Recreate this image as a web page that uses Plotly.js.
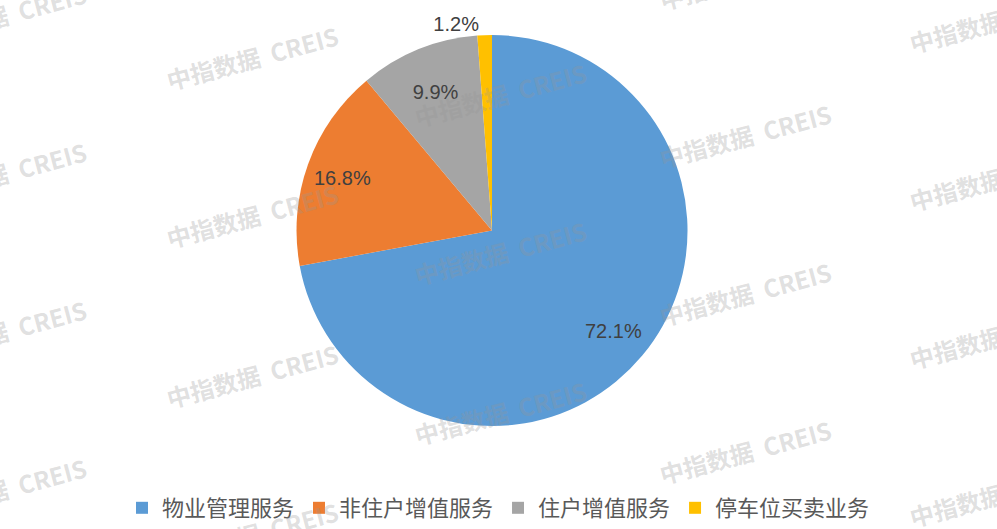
<!DOCTYPE html>
<html>
<head>
<meta charset="utf-8">
<script src="https://cdn.plot.ly/plotly-3.0.1.min.js"></script>
<style>html,body{margin:0;padding:0;background:#fff;}#chart{width:997px;height:529px;}</style>
</head>
<body>
<div id="chart"></div>
<script>
const categories = ['物业管理服务', '非住户增值服务', '住户增值服务', '停车位买卖业务'];
const shares = [72.1, 16.8, 9.9, 1.2];
const sliceColors = ['#5B9BD5', '#ED7D31', '#A5A5A5', '#FFC000'];
// how each slice's value label is drawn: 'ring' = horizontal label at 80% of the radius
const labelModes = ['ring', 'ring', 'inside', 'outside'];

const watermarkText = '中指数据\u00a0\u00a0CREIS';
const watermarkSpots = [
  [0, 15], [0, 175], [0, 335], [0, 495],
  [252, 58], [252, 218], [252, 380], [252, 540],
  [500, 95], [500, 255], [500, 417],
  [745, -23], [745, 137], [745, 297], [745, 457],
  [995, 20], [995, 180], [995, 340], [995, 500]
];

const W = 997, H = 529;
const M = {l: 0, r: 0, t: 35, b: 98};
const pw = W - M.l - M.r, ph = H - M.t - M.b;
const domX = [0, 0.987];
const labelFont = {family: '"Liberation Sans", Arimo, sans-serif', size: 20, color: '#404040'};

const annotations = watermarkSpots.map(([px, py]) => ({
  text: watermarkText,
  xref: 'paper', yref: 'paper',
  x: (px - M.l) / pw, y: 1 - (py - M.t) / ph,
  xanchor: 'center', yanchor: 'middle',
  showarrow: false, textangle: -15,
  font: {family: '"Noto Sans CJK SC", "Noto Sans", sans-serif', size: 24, color: 'rgba(150,150,150,0.30)', weight: 'bold'}
}));

// value labels placed on the pie's own geometry (center & radius of the domain)
const total = shares.reduce((a, b) => a + b, 0);
const radiusPx = Math.min((domX[1] - domX[0]) * pw, ph) / 2;
const cxPaper = (domX[0] + domX[1]) / 2, cyPaper = 0.5;
let cum = 0;
shares.forEach((v, i) => {
  const theta = 2 * Math.PI * (cum + v / 2) / total;
  cum += v;
  if (labelModes[i] !== 'ring') return;
  const r = 0.8 * radiusPx;
  annotations.push({
    text: v.toFixed(1) + '%',
    xref: 'paper', yref: 'paper',
    x: cxPaper + r * Math.sin(theta) / pw,
    y: cyPaper + r * Math.cos(theta) / ph,
    xanchor: 'center', yanchor: 'middle', showarrow: false,
    font: labelFont
  });
});

const trace = {
  type: 'pie',
  labels: categories,
  values: shares,
  texttemplate: labelModes.map(m => m === 'ring' ? '' : '%{value:.1f}%'),
  textposition: labelModes.map(m => m === 'outside' ? 'outside' : 'inside'),
  insidetextorientation: 'horizontal',
  sort: false,
  direction: 'clockwise',
  rotation: 0,
  marker: {colors: sliceColors, line: {width: 0}},
  textfont: labelFont,
  insidetextfont: labelFont,
  outsidetextfont: labelFont,
  domain: {x: domX, y: [0, 1]},
  hoverinfo: 'none'
};

const layout = {
  width: W, height: H,
  margin: M,
  paper_bgcolor: '#ffffff',
  plot_bgcolor: '#ffffff',
  showlegend: true,
  legend: {
    orientation: 'h', x: 0.5, xanchor: 'center', y: -0.21, yanchor: 'middle',
    font: {family: '"Noto Sans CJK SC", sans-serif', size: 22, color: '#595959'},
    itemwidth: 30, tracegroupgap: 0
  },
  annotations: annotations
};

Plotly.newPlot('chart', [trace], layout, {displayModeBar: false, staticPlot: true});
</script>
</body>
</html>
